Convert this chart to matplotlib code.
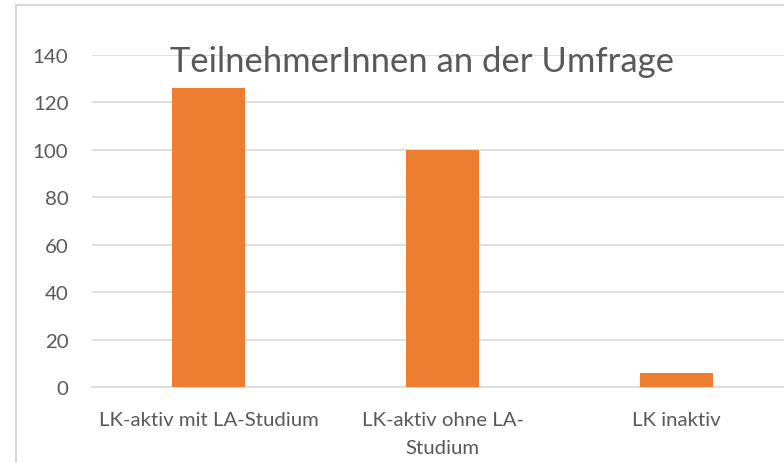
import numpy as np
import matplotlib.pyplot as plt
from matplotlib.patches import Rectangle

# Data
categories = ["LK-aktiv mit LA-Studium", "LK-aktiv ohne LA-\nStudium", "LK inaktiv"]
teilnehmer = [126, 100, 6]
title = "TeilnehmerInnen an der Umfrage"

plt.rcParams["font.family"] = ["Lato", "DejaVu Sans"]

fig = plt.figure(figsize=(7.84, 4.64), dpi=100)

# light chart border (cut off on the right and bottom like the screenshot)
fig.patches.append(Rectangle((16 / 784, -0.1), 1.2, 1 - 6 / 464 + 0.1,
                             transform=fig.transFigure, fill=False,
                             edgecolor="#D9D9D9", linewidth=1.5))

ax = fig.add_axes([92 / 784, 1 - 388 / 464, 1 - 92 / 784, (388 - 56) / 464])
x = np.arange(len(categories))
ax.bar(x, teilnehmer, width=0.312, color="#ED7D31", zorder=3)

ax.set_ylim(0, 140)
ax.set_yticks(np.arange(0, 141, 20))
ax.set_xlim(-0.498, 2.459)
ax.set_xticks(x)
ax.set_xticklabels(categories, linespacing=1.8)

ax.yaxis.grid(True, color="#D9D9D9", linewidth=1.2, zorder=0)
for s in ["top", "right", "left"]:
    ax.spines[s].set_visible(False)
ax.spines["bottom"].set_color("#D9D9D9")
ax.spines["bottom"].set_linewidth(1.2)
ax.tick_params(length=0, colors="#595959", labelsize=14.7)
ax.tick_params(axis="y", pad=17)
ax.tick_params(axis="x", pad=17)

fig.text(422 / 784, 1 - 72 / 464, title, ha="center", va="baseline",
         fontsize=24.9, color="#595959")

fig.savefig("out.png", dpi=100)
